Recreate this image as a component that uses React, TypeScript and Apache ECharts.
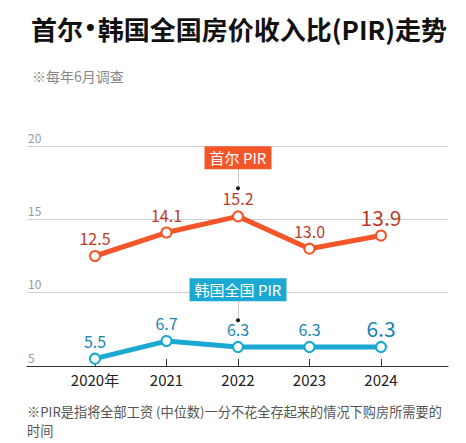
import React, { useEffect, useRef } from "react";
import * as echarts from "echarts";

const years = ["2020", "2021", "2022", "2023", "2024"];
const seoulPIR = [12.5, 14.1, 15.2, 13.0, 13.9];
const koreaPIR = [5.5, 6.7, 6.3, 6.3, 6.3];
const yTicks = [5, 10, 15, 20];

const FONT = '"Noto Sans CJK SC", "Noto Sans", sans-serif';
const SEOUL = "#f4562a";
const SEOUL_TXT = "#bf3a26";
const KOREA = "#1ba9d4";
const KOREA_TXT = "#1b84b6";

export default function App() {
  const ref = useRef<HTMLDivElement>(null);
  useEffect(() => {
    if (!ref.current) return;
    const chart = echarts.init(ref.current, undefined, { renderer: "svg" });
    const last = years.length - 1;
    const mkLabels = (vals: number[], color: string) =>
      vals.map((v, i) => ({
        value: v,
        label: {
          show: true,
          position: "top",
          distance: i === last ? 2 : 4,
          formatter: v.toFixed(1),
          color,
          fontSize: i === last ? 21 : 16,
          fontFamily: FONT,
        },
      }));
    const tag = (
      text: string,
      color: string,
      boxVal: number,
      w: number,
      lineTop: number,
      dotVal: number
    ) => ({
      markPoint: {
        silent: true,
        data: [
          {
            coord: ["2022", boxVal],
            symbol: "rect",
            symbolSize: [w, 23],
            itemStyle: { color, borderWidth: 0 },
            label: { show: true, color: "#fff", fontSize: 15, fontFamily: FONT, formatter: text },
          },
          {
            coord: ["2022", dotVal],
            symbol: "circle",
            symbolSize: 4,
            itemStyle: { color: "#111", borderWidth: 0 },
            label: { show: false },
          },
        ],
      },
      markLine: {
        silent: true,
        symbol: ["none", "none"],
        label: { show: false },
        lineStyle: { color: "#999", type: "dotted", width: 1 },
        data: [[{ coord: ["2022", lineTop] }, { coord: ["2022", dotVal] }]],
      },
    });
    const option: any = {
      animation: false,
      textStyle: { fontFamily: FONT },
      title: [
        {
          text: "{a|首尔}{b|•}{a|韩国全国房价收入比(PIR)走势}",
          left: 26,
          top: 10,
          textStyle: {
            rich: {
              a: { fontSize: 26, fontWeight: "bold", color: "#111", fontFamily: FONT },
              b: { fontSize: 20, fontWeight: "bold", color: "#111", fontFamily: '"DejaVu Sans", sans-serif', padding: [0, 1, 0, 1] },
            },
          },
        },
        {
          text: "※每年6月调查",
          left: 27,
          top: 64,
          textStyle: { fontSize: 14, fontWeight: "normal", color: "#888", fontFamily: FONT },
        },
        {
          text: "※PIR是指将全部工资 (中位数)一分不花全存起来的情况下购房所需要的\n时间",
          left: 22,
          top: 397,
          textStyle: {
            fontSize: 13.2,
            fontWeight: "normal",
            color: "#555",
            lineHeight: 19,
            fontFamily: FONT,
          },
        },
      ],
      grid: [
        { left: 27, right: 18, top: 146, bottom: 77 },
        { left: 95, right: 85, top: 146, bottom: 77 },
      ],
      xAxis: [
        {
          gridIndex: 0,
          type: "value",
          min: 0,
          max: 1,
          axisLine: { show: true, onZero: false, lineStyle: { color: "#333", width: 1 } },
          axisTick: { show: false },
          axisLabel: { show: false },
          splitLine: { show: false },
        },
        {
          gridIndex: 1,
          type: "category",
          data: years,
          boundaryGap: false,
          axisLine: { show: false },
          axisTick: { show: true, inside: true, length: 7, lineStyle: { color: "#333" } },
          axisLabel: {
            color: "#222",
            fontSize: 15,
            margin: 6,
            fontFamily: FONT,
            formatter: (v: string, i: number) => (i === 0 ? v + "年" : v),
          },
        },
      ],
      yAxis: [
        {
          gridIndex: 0,
          type: "value",
          min: yTicks[0],
          max: yTicks[yTicks.length - 1],
          interval: 5,
          axisLine: { show: false },
          axisTick: { show: false },
          splitLine: { show: true, lineStyle: { color: "#d0d0d0", width: 1 } },
          axisLabel: {
            inside: true,
            color: "#999",
            fontSize: 12,
            margin: 1,
            verticalAlign: "bottom",
            align: "left",
            padding: [0, 0, 3, 0],
            fontFamily: FONT,
          },
        },
        {
          gridIndex: 1,
          type: "value",
          min: yTicks[0],
          max: yTicks[yTicks.length - 1],
          show: false,
          splitLine: { show: false },
        },
      ],
      series: [
        {
          name: "首尔 PIR",
          type: "line",
          xAxisIndex: 1,
          yAxisIndex: 1,
          data: mkLabels(seoulPIR, SEOUL_TXT),
          lineStyle: { color: SEOUL, width: 5 },
          itemStyle: { color: "#fff", borderColor: SEOUL, borderWidth: 2 },
          symbol: "circle",
          symbolSize: 10,
          z: 3,
          ...tag("首尔 PIR", SEOUL, 19.2, 67, 18.42, 17.12),
        },
        {
          name: "韩国全国 PIR",
          type: "line",
          xAxisIndex: 1,
          yAxisIndex: 1,
          data: mkLabels(koreaPIR, KOREA_TXT),
          lineStyle: { color: KOREA, width: 5 },
          itemStyle: { color: "#fff", borderColor: KOREA, borderWidth: 2 },
          symbol: "circle",
          symbolSize: 10,
          z: 3,
          ...tag("韩国全国 PIR", KOREA, 10.2, 97, 9.38, 8.12),
        },
      ],
    };
    chart.setOption(option);
    return () => chart.dispose();
  }, []);
  return (
    <div
      ref={ref}
      style={{ position: "fixed", left: 0, top: 0, width: 466, height: 443, background: "#fff" }}
    />
  );
}
